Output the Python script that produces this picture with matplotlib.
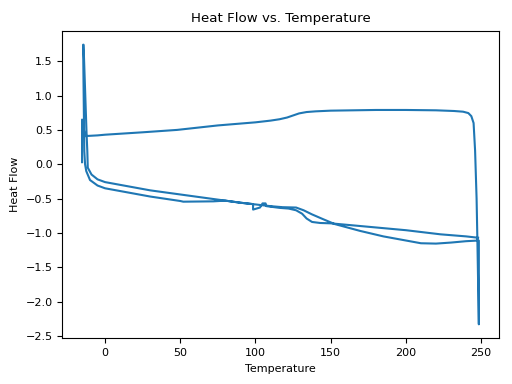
import numpy as np
from matplotlib import pyplot as plt

# first heating
heat1_temp = [-15.3, -15.3, -13.3, -5, 0, 25, 48, 75, 100, 110, 116, 121, 125,
              129, 134, 140, 150, 165, 180, 200, 220, 232, 238, 241.5, 243.5,
              245, 246, 247, 247.5, 248.5]
heat1_flow = [0.03, 0.65, 0.41, 0.42, 0.43, 0.465, 0.50, 0.565, 0.61, 0.635,
              0.655, 0.68, 0.71, 0.74, 0.76, 0.77, 0.78, 0.785, 0.79, 0.79,
              0.785, 0.775, 0.765, 0.745, 0.70, 0.60, 0.20, -0.50, -1.07, -2.33]

# cooling, right to left
cool_temp = [248.5, 240, 230, 220, 210, 200, 185, 169.5, 152.6, 145, 137.6,
             132, 127, 118, 110, 100, 90, 80, 72, 52, 50, 30, 10, 0, -5, -10,
             -12.5, -13.3, -13.8, -14.6]
cool_flow = [-1.11, -1.12, -1.14, -1.155, -1.15, -1.11, -1.05, -0.97, -0.87,
             -0.80, -0.73, -0.67, -0.63, -0.625, -0.61, -0.585, -0.56, -0.53,
             -0.54, -0.545, -0.535, -0.47, -0.39, -0.35, -0.31, -0.23, -0.10,
             0.0, 0.19, 1.74]

# second heating, left to right
heat2_temp = [-14.3, -12.3, -11.8, -11.5, -9, -5, 0, 10, 30, 60, 80, 90, 98.4,
              98.4, 103, 104.7, 106.7, 107.3, 116, 122, 127, 131, 134, 137.6,
              143, 150, 170, 185, 200, 223, 240, 248]
heat2_flow = [1.74, 0.45, 0.19, -0.05, -0.15, -0.22, -0.26, -0.30, -0.38,
              -0.47, -0.53, -0.56, -0.58, -0.66, -0.63, -0.57, -0.57, -0.61,
              -0.635, -0.645, -0.67, -0.72, -0.79, -0.84, -0.855, -0.86, -0.90,
              -0.93, -0.96, -1.02, -1.05, -1.07]

temperature = np.concatenate([heat1_temp, cool_temp, heat2_temp])
heat_flow = np.concatenate([heat1_flow, cool_flow, heat2_flow])

fig = plt.figure(figsize=(5.12, 3.84), dpi=100)
ax1 = fig.add_subplot(111)
ax1.plot(temperature, heat_flow)
plt.xlabel('Temperature', fontsize=8)
plt.ylabel('Heat Flow', fontsize=8)
plt.title('Heat Flow vs. Temperature', fontsize=9.6)
ax1.tick_params(labelsize=8)
fig.subplots_adjust(left=0.1215, right=0.974, top=0.92, bottom=0.119)
plt.savefig('out.png', dpi=100)
